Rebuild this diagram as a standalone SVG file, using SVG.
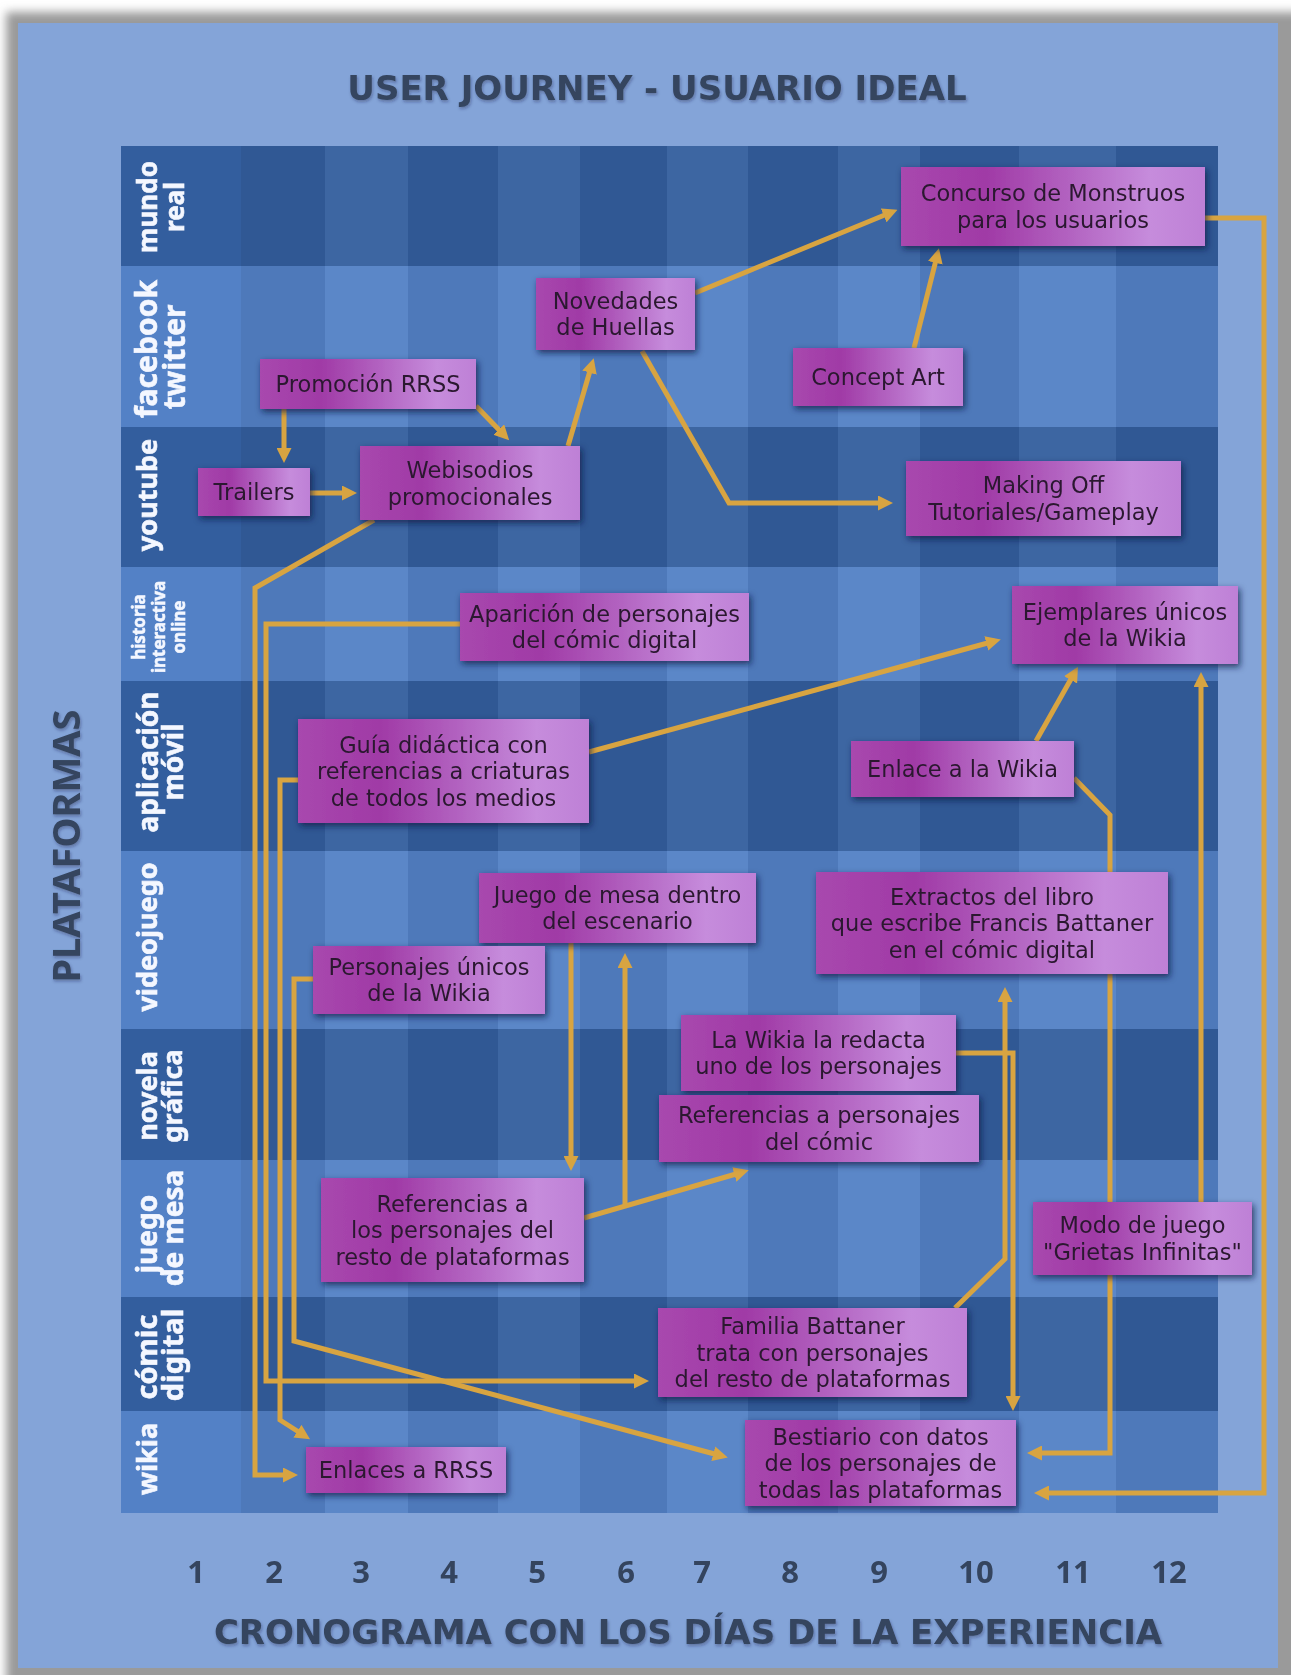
<svg xmlns="http://www.w3.org/2000/svg" width="1291" height="1675" viewBox="0 0 1291 1675">
<defs>
<style>
.dk{fill:#335E9E}
.lt{fill:#5381C6}
.sd{fill:#000;opacity:.06}
.sl{fill:#fff;opacity:.05}
.lbl{font-family:"Noto Sans","DejaVu Sans",sans-serif;font-weight:bold;fill:#F4F7FF;stroke:#F4F7FF;stroke-width:0.6px;text-anchor:middle}
.ttl{font-family:"DejaVu Sans","Noto Sans",sans-serif;font-weight:bold;fill:#34445E;text-anchor:middle;font-size:34px}
.plat{font-family:"Noto Sans","DejaVu Sans",sans-serif;font-weight:bold;fill:#34445E;text-anchor:middle;font-size:38px}
.num{font-family:"Noto Sans","DejaVu Sans",sans-serif;font-weight:bold;fill:#34445E;text-anchor:middle;font-size:31px}
.box{fill:url(#ng);filter:url(#sh)}
.nt{font-family:"DejaVu Sans","Noto Sans",sans-serif;font-size:22.5px;fill:#2B1830;text-anchor:middle}
.cn{fill:none;stroke:#D8A441;stroke-width:5;stroke-linejoin:miter}
.ar{marker-end:url(#ah)}
</style>
<linearGradient id="ng" x1="0" y1="0" x2="1" y2="0">
<stop offset="0" stop-color="#A848AE"/>
<stop offset="0.28" stop-color="#A03AA6"/>
<stop offset="0.55" stop-color="#B262C0"/>
<stop offset="0.82" stop-color="#C68CDC"/>
<stop offset="1" stop-color="#BE80D6"/>
</linearGradient>
<filter id="sh" x="-10%" y="-20%" width="125%" height="150%">
<feDropShadow dx="2" dy="3" stdDeviation="3" flood-color="#141C44" flood-opacity="0.75"/>
</filter>
<filter id="fr" x="-5%" y="-5%" width="110%" height="110%">
<feGaussianBlur stdDeviation="5"/>
</filter>
<filter id="ts" x="-5%" y="-20%" width="110%" height="150%">
<feDropShadow dx="1" dy="2" stdDeviation="1.5" flood-color="#1A2440" flood-opacity="0.35"/>
</filter>
<marker id="ah" viewBox="0 0 15 15" refX="9" refY="7.5" markerWidth="15" markerHeight="15" markerUnits="userSpaceOnUse" orient="auto">
<path d="M0,0 L15,7.5 L0,15 z" fill="#D8A441"/>
</marker>
</defs>

<rect x="0" y="0" width="1291" height="1675" fill="#FFFFFF"/>
<rect x="6" y="12" width="1310" height="1700" fill="#9A9A9A" filter="url(#fr)"/>
<rect x="18" y="23" width="1260" height="1645" fill="#84A4D8"/>

<g id="grid">
<rect x="121" y="146" width="1097" height="120" class="dk"/>
<rect x="121" y="266" width="1097" height="161" class="lt"/>
<rect x="121" y="427" width="1097" height="140" class="dk"/>
<rect x="121" y="567" width="1097" height="114" class="lt"/>
<rect x="121" y="681" width="1097" height="170" class="dk"/>
<rect x="121" y="851" width="1097" height="178" class="lt"/>
<rect x="121" y="1029" width="1097" height="131" class="dk"/>
<rect x="121" y="1160" width="1097" height="137" class="lt"/>
<rect x="121" y="1297" width="1097" height="114" class="dk"/>
<rect x="121" y="1411" width="1097" height="102" class="lt"/>
<rect x="241" y="146" width="84" height="1367" class="sd"/>
<rect x="325" y="146" width="83" height="1367" class="sl"/>
<rect x="408" y="146" width="90" height="1367" class="sd"/>
<rect x="498" y="146" width="82" height="1367" class="sl"/>
<rect x="580" y="146" width="87" height="1367" class="sd"/>
<rect x="667" y="146" width="81" height="1367" class="sl"/>
<rect x="748" y="146" width="90" height="1367" class="sd"/>
<rect x="838" y="146" width="82" height="1367" class="sl"/>
<rect x="920" y="146" width="99" height="1367" class="sd"/>
<rect x="1019" y="146" width="97" height="1367" class="sl"/>
<rect x="1116" y="146" width="102" height="1367" class="sd"/>
</g>

<g id="titles" filter="url(#ts)">
<text class="ttl" x="657" y="100">USER JOURNEY - USUARIO IDEAL</text>
<text class="ttl" x="688" y="1644">CRONOGRAMA CON LOS DÍAS DE LA EXPERIENCIA</text>
<text class="plat" transform="translate(80,846) rotate(-90)">PLATAFORMAS</text>
</g>

<g id="day-numbers">
<text class="num" x="196" y="1583">1</text>
<text class="num" x="274" y="1583">2</text>
<text class="num" x="361" y="1583">3</text>
<text class="num" x="449" y="1583">4</text>
<text class="num" x="537" y="1583">5</text>
<text class="num" x="626" y="1583">6</text>
<text class="num" x="702" y="1583">7</text>
<text class="num" x="790" y="1583">8</text>
<text class="num" x="879" y="1583">9</text>
<text class="num" x="976" y="1583">10</text>
<text class="num" x="1073" y="1583">11</text>
<text class="num" x="1169" y="1583">12</text>
</g>

<g id="row-labels">
<text class="lbl" font-size="26" transform="translate(157,207) rotate(-90)">mundo</text>
<text class="lbl" font-size="26" transform="translate(184,207) rotate(-90)">real</text>
<text class="lbl" font-size="30" transform="translate(157,349) rotate(-90)">facebook</text>
<text class="lbl" font-size="30" transform="translate(185,357) rotate(-90)">twitter</text>
<text class="lbl" font-size="27" transform="translate(157,495) rotate(-90)">youtube</text>
<text class="lbl" font-size="17" transform="translate(145,627) rotate(-90)">historia</text>
<text class="lbl" font-size="17" transform="translate(165,627) rotate(-90)">interactiva</text>
<text class="lbl" font-size="17" transform="translate(185,627) rotate(-90)">online</text>
<text class="lbl" font-size="28" transform="translate(158,762) rotate(-90)">aplicación</text>
<text class="lbl" font-size="28" transform="translate(183,762) rotate(-90)">móvil</text>
<text class="lbl" font-size="27" transform="translate(157,937) rotate(-90)">videojuego</text>
<text class="lbl" font-size="27" transform="translate(157,1096) rotate(-90)">novela</text>
<text class="lbl" font-size="27" transform="translate(182,1096) rotate(-90)">gráfica</text>
<text class="lbl" font-size="28" transform="translate(157,1234) rotate(-90)">juego</text>
<text class="lbl" font-size="28" transform="translate(183,1228) rotate(-90)">de mesa</text>
<text class="lbl" font-size="29" transform="translate(157,1357) rotate(-90)">cómic</text>
<text class="lbl" font-size="29" transform="translate(183,1355) rotate(-90)">digital</text>
<text class="lbl" font-size="27" transform="translate(157,1459) rotate(-90)">wikia</text>
</g>

<g id="connectors">
<path class="cn ar" d="M284,409 V457"/>
<path class="cn ar" d="M476,406 L505,436"/>
<path class="cn ar" d="M310,493 H351"/>
<path class="cn ar" d="M568,446 L592,364"/>
<path class="cn ar" d="M695,293 L892,212"/>
<path class="cn ar" d="M914,348 L937.5,254"/>
<path class="cn ar" d="M642,351 L729,503 H887"/>
<path class="cn ar" d="M1205,218 H1264 V1493 H1040"/>
<path class="cn ar" d="M374,520 L255,588 V1475 H292"/>
<path class="cn ar" d="M460,624 H266 V1381 H643"/>
<path class="cn ar" d="M298,780 H280 V1420 L305,1436"/>
<path class="cn ar" d="M313,979 H294 V1341 L722,1456"/>
<path class="cn ar" d="M589,752 L995,641"/>
<path class="cn ar" d="M1036,741 L1075,672"/>
<path class="cn ar" d="M1074,778 L1110,815 V1453 H1033"/>
<path class="cn ar" d="M1201,1202 V678"/>
<path class="cn ar" d="M571,943 V1165"/>
<path class="cn ar" d="M625,1206 V959"/>
<path class="cn ar" d="M584,1218 L743,1172"/>
<path class="cn ar" d="M955,1308 L1005,1259 V993"/>
<path class="cn ar" d="M956,1053 H1013 V1405"/>
</g>

<g id="node-concurso"><rect class="box" x="901" y="167" width="304" height="79"/><text class="nt" x="1053" y="201">Concurso de Monstruos</text><text class="nt" x="1053" y="228">para los usuarios</text></g>
<g id="node-novedades"><rect class="box" x="536" y="278" width="159" height="72"/><text class="nt" x="615.5" y="309">Novedades</text><text class="nt" x="615.5" y="335">de Huellas</text></g>
<g id="node-concept"><rect class="box" x="793" y="348" width="170" height="58"/><text class="nt" x="878" y="385">Concept Art</text></g>
<g id="node-promocion"><rect class="box" x="260" y="359" width="216" height="50"/><text class="nt" x="368" y="392">Promoción RRSS</text></g>
<g id="node-trailers"><rect class="box" x="198" y="468" width="112" height="48"/><text class="nt" x="254" y="500">Trailers</text></g>
<g id="node-webisodios"><rect class="box" x="360" y="446" width="220" height="74"/><text class="nt" x="470" y="478">Webisodios</text><text class="nt" x="470" y="504.5">promocionales</text></g>
<g id="node-making"><rect class="box" x="906" y="461" width="275" height="75"/><text class="nt" x="1043.5" y="493">Making Off</text><text class="nt" x="1043.5" y="520">Tutoriales/Gameplay</text></g>
<g id="node-aparicion"><rect class="box" x="460" y="593" width="289" height="68"/><text class="nt" x="604.5" y="622">Aparición de personajes</text><text class="nt" x="604.5" y="648">del cómic digital</text></g>
<g id="node-ejemplares"><rect class="box" x="1012" y="586" width="226" height="78"/><text class="nt" x="1125" y="620">Ejemplares únicos</text><text class="nt" x="1125" y="646">de la Wikia</text></g>
<g id="node-guia"><rect class="box" x="298" y="719" width="291" height="104"/><text class="nt" x="443.5" y="752.5">Guía didáctica con</text><text class="nt" x="443.5" y="779">referencias a criaturas</text><text class="nt" x="443.5" y="805.5">de todos los medios</text></g>
<g id="node-enlace-wikia"><rect class="box" x="851" y="741" width="223" height="56"/><text class="nt" x="962.5" y="777">Enlace a la Wikia</text></g>
<g id="node-juego-mesa-dentro"><rect class="box" x="479" y="873" width="277" height="70"/><text class="nt" x="617.5" y="903">Juego de mesa dentro</text><text class="nt" x="617.5" y="929">del escenario</text></g>
<g id="node-extractos"><rect class="box" x="816" y="872" width="352" height="102"/><text class="nt" x="992" y="904.5">Extractos del libro</text><text class="nt" x="992" y="931">que escribe Francis Battaner</text><text class="nt" x="992" y="957.5">en el cómic digital</text></g>
<g id="node-personajes-unicos"><rect class="box" x="313" y="946" width="232" height="68"/><text class="nt" x="429" y="975">Personajes únicos</text><text class="nt" x="429" y="1001">de la Wikia</text></g>
<g id="node-la-wikia"><rect class="box" x="681" y="1015" width="275" height="76"/><text class="nt" x="818.5" y="1048">La Wikia la redacta</text><text class="nt" x="818.5" y="1074">uno de los personajes</text></g>
<g id="node-ref-comic"><rect class="box" x="659" y="1095" width="320" height="67"/><text class="nt" x="819" y="1123">Referencias a personajes</text><text class="nt" x="819" y="1150">del cómic</text></g>
<g id="node-ref-personajes"><rect class="box" x="321" y="1178" width="263" height="104"/><text class="nt" x="452.5" y="1211.5">Referencias a</text><text class="nt" x="452.5" y="1238">los personajes del</text><text class="nt" x="452.5" y="1264.5">resto de plataformas</text></g>
<g id="node-modo"><rect class="box" x="1033" y="1202" width="219" height="73"/><text class="nt" x="1142.5" y="1233">Modo de juego</text><text class="nt" x="1142.5" y="1260">"Grietas Infinitas"</text></g>
<g id="node-familia"><rect class="box" x="658" y="1308" width="309" height="89"/><text class="nt" x="812.5" y="1334">Familia Battaner</text><text class="nt" x="812.5" y="1360.5">trata con personajes</text><text class="nt" x="812.5" y="1387">del resto de plataformas</text></g>
<g id="node-enlaces-rrss"><rect class="box" x="306" y="1447" width="200" height="46"/><text class="nt" x="406" y="1478">Enlaces a RRSS</text></g>
<g id="node-bestiario"><rect class="box" x="745" y="1420" width="271" height="86"/><text class="nt" x="880.5" y="1444.5">Bestiario con datos</text><text class="nt" x="880.5" y="1471">de los personajes de</text><text class="nt" x="880.5" y="1497.5">todas las plataformas</text></g>
</svg>
